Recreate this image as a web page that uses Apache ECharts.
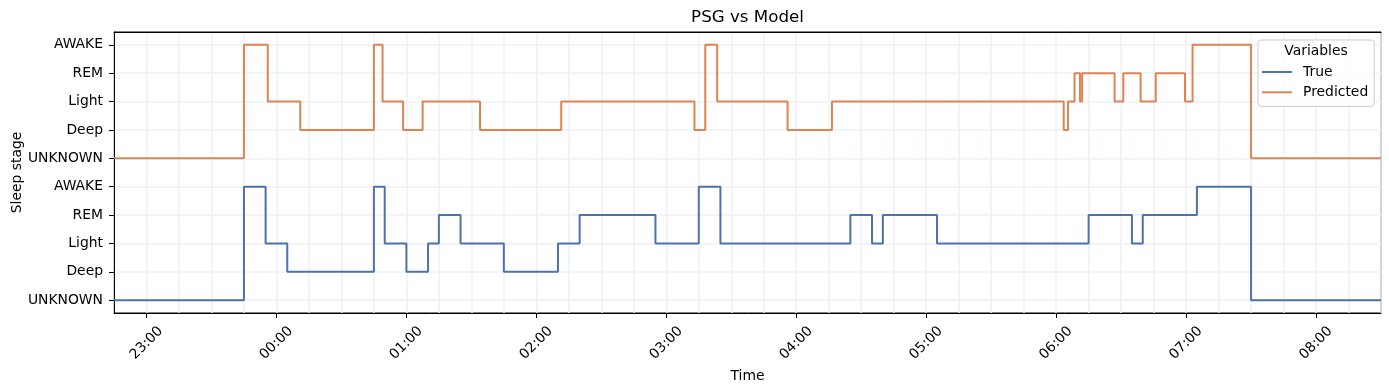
<!DOCTYPE html>
<html>
<head>
<meta charset="utf-8">
<script src="https://cdn.jsdelivr.net/npm/echarts@6/dist/echarts.min.js"></script>
<style>
html,body{margin:0;padding:0;background:#fff;}
#chart{width:1389px;height:390px;}
</style>
</head>
<body>
<div id="chart"></div>
<script>
// ---- data ----
const stageNames = ['UNKNOWN', 'Deep', 'Light', 'REM', 'AWAKE'];
const yTickLabels = ['UNKNOWN', 'Deep', 'Light', 'REM', 'AWAKE', 'UNKNOWN', 'Deep', 'Light', 'REM', 'AWAKE'];
const xTickLabels = ['23:00', '00:00', '01:00', '02:00', '03:00', '04:00', '05:00', '06:00', '07:00', '08:00'];
const xStart = '22:45';
const xEnd = '08:30';

const trueTimes = ['22:45', '23:45', '23:55', '00:05', '00:45', '00:50', '01:00', '01:10', '01:15', '01:25', '01:45', '02:10', '02:20', '02:55', '03:15', '03:25', '04:25', '04:35', '04:40', '05:05', '06:15', '06:35', '06:40', '07:05', '07:30', '08:30'];
const trueStages = ['UNKNOWN', 'AWAKE', 'Light', 'Deep', 'AWAKE', 'Light', 'Deep', 'Light', 'REM', 'Light', 'Deep', 'Light', 'REM', 'Light', 'AWAKE', 'Light', 'REM', 'Light', 'REM', 'Light', 'REM', 'Light', 'REM', 'AWAKE', 'UNKNOWN', 'UNKNOWN'];

const predTimes = ['22:45', '23:45', '23:56', '00:11', '00:45', '00:49', '00:58:30', '01:07:30', '01:34', '02:11:30', '03:13', '03:18', '03:23:30', '03:56', '04:16:30', '06:03:30', '06:05:30', '06:08:30', '06:11', '06:12', '06:27', '06:31', '06:39', '06:46', '06:59:30', '07:03', '07:30', '08:30'];
const predStages = ['UNKNOWN', 'AWAKE', 'Light', 'Deep', 'AWAKE', 'Light', 'Deep', 'Light', 'Deep', 'Light', 'Deep', 'AWAKE', 'Light', 'Deep', 'Light', 'Deep', 'Light', 'REM', 'Light', 'REM', 'Light', 'REM', 'Light', 'REM', 'Light', 'AWAKE', 'UNKNOWN', 'UNKNOWN'];

// ---- helpers ----
function toMin(s) {
  const p = s.split(':').map(Number);
  let v = p[0] * 60 + p[1] + (p[2] || 0) / 60;
  if (p[0] < 12) v += 1440;
  return v;
}
function build(times, stages, offset) {
  return times.map((t, i) => [toMin(t), stageNames.indexOf(stages[i]) + offset]);
}
const FONT = 'DejaVu Sans';
const FS = 13.9;
const hourVals = xTickLabels.map(toMin);
const GRID_COLOR = '#ecf2f7';

const chart = echarts.init(document.getElementById('chart'), null, {renderer: 'canvas'});
chart.setOption({
  animation: false,
  backgroundColor: '#ffffff',
  textStyle: {fontFamily: FONT},
  grid: {left: 114, right: 8, top: 32, bottom: 77, show: true, borderColor: '#000', borderWidth: 1,
         backgroundColor: 'transparent', containLabel: false, outerBoundsMode: 'none'},
  graphic: [
    {type: 'text', x: 747.5, y: 17.5, style: {text: 'PSG vs Model', font: '16.7px "DejaVu Sans"', fill: '#000', textAlign: 'center', textVerticalAlign: 'middle'}, z: 10},
    {type: 'text', x: 1316, y: 51, style: {text: 'Variables', font: FS + 'px "DejaVu Sans"', fill: '#000', textAlign: 'center', textVerticalAlign: 'middle'}, z: 200}
  ],
  legend: {
    orient: 'vertical',
    left: 1258, top: 40,
    padding: [25, 6, 7, 4],
    itemWidth: 30, itemHeight: 2, itemGap: 6.3,
    icon: 'rect',
    backgroundColor: 'rgba(255,255,255,0.8)',
    borderColor: '#cccccc', borderWidth: 1, borderRadius: 3,
    textStyle: {fontFamily: FONT, fontSize: FS, color: '#000', padding: [0, 0, 0, 6]},
    data: ['True', 'Predicted']
  },
  xAxis: [
    {
      type: 'value', position: 'top', min: toMin(xStart), max: toMin(xEnd), interval: 15,
      axisLine: {show: true, onZero: false, lineStyle: {color: '#000', width: 1}}, axisTick: {show: false}, axisLabel: {show: false},
      splitLine: {show: true, lineStyle: {color: GRID_COLOR, width: 1.5}}
    },
    {
      type: 'value', position: 'bottom', min: toMin(xStart), max: toMin(xEnd),
      name: 'Time', nameLocation: 'middle', nameGap: 51,
      nameTextStyle: {fontFamily: FONT, fontSize: FS, color: '#000'},
      axisLine: {show: true, onZero: false, lineStyle: {color: '#000', width: 1}},
      axisTick: {show: true, length: 5, lineStyle: {color: '#000', width: 1}, customValues: hourVals},
      axisLabel: {
        customValues: hourVals, rotate: 45, margin: 30, align: 'center', verticalAlign: 'middle',
        fontFamily: FONT, fontSize: FS, color: '#000',
        formatter: v => xTickLabels[hourVals.indexOf(v)] || ''
      },
      splitLine: {show: false}
    }
  ],
  yAxis: {
    type: 'value', min: -0.45, max: 9.45,
    name: 'Sleep stage', nameLocation: 'middle', nameGap: 90, nameMoveOverlap: false,
    nameTextStyle: {fontFamily: FONT, fontSize: FS, color: '#000'},
    axisLine: {show: true, onZero: false, lineStyle: {color: '#000', width: 1}},
    axisTick: {show: true, length: 5, lineStyle: {color: '#000', width: 1}, customValues: [0,1,2,3,4,5,6,7,8,9]},
    axisLabel: {
      customValues: [0,1,2,3,4,5,6,7,8,9], margin: 11,
      fontFamily: FONT, fontSize: FS, color: '#000',
      formatter: v => yTickLabels[Math.round(v)]
    },
    splitLine: {show: true, lineStyle: {color: GRID_COLOR, width: 1.5}}
  },
  series: [
    {
      name: 'True', type: 'line', step: 'end', xAxisIndex: 0, showSymbol: false, symbol: 'none',
      color: '#4c72b0', lineStyle: {color: '#4c72b0', width: 2},
      data: build(trueTimes, trueStages, 0)
    },
    {
      name: 'Predicted', type: 'line', step: 'end', xAxisIndex: 0, showSymbol: false, symbol: 'none',
      color: '#dd8452', lineStyle: {color: '#dd8452', width: 2},
      data: build(predTimes, predStages, 5)
    }
  ]
});
</script>
</body>
</html>
